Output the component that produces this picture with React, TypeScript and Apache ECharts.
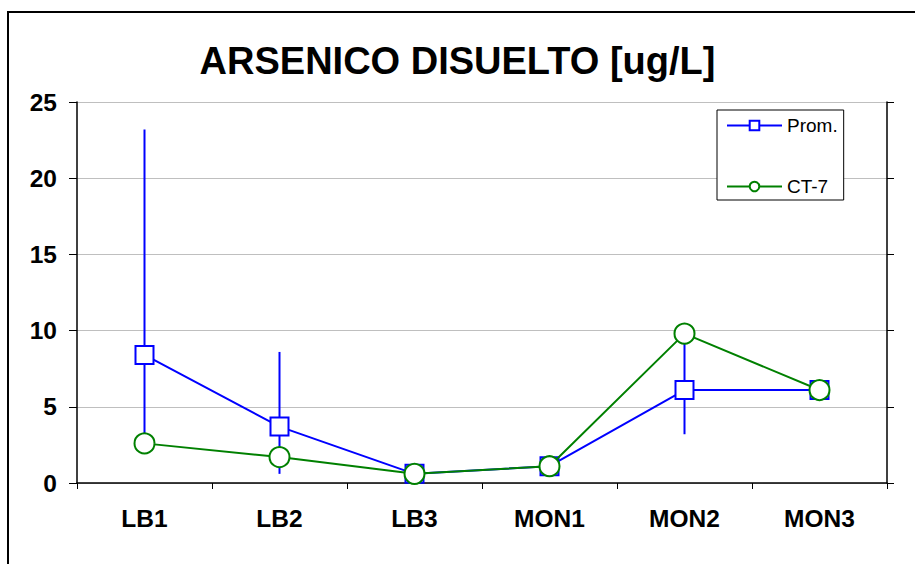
import React, { useEffect, useRef } from "react";
import * as echarts from "echarts";

const categories = ["LB1", "LB2", "LB3", "MON1", "MON2", "MON3"];
const promValues = [8.4, 3.7, 0.6, 1.1, 6.1, 6.1];
const ct7Values = [2.6, 1.7, 0.6, 1.1, 9.8, 6.1];
const promLow = [2.4, 0.6, 0.6, 1.1, 3.2, 6.1];
const promHigh = [23.2, 8.6, 0.6, 1.1, 9.6, 6.1];
const yTicks = [0, 5, 10, 15, 20, 25];

const FONT = "'Liberation Sans', Arial, sans-serif";

export default function App() {
  const ref = useRef<HTMLDivElement>(null);
  useEffect(() => {
    if (!ref.current) return;
    const chart = echarts.init(ref.current, null, { renderer: "svg" });
    const errData = categories.map((c, i) => [i, promLow[i], promHigh[i]]);
    chart.setOption({
      animation: false,
      backgroundColor: "#fff",
      title: {
        text: "ARSENICO DISUELTO [ug/L]",
        left: "center",
        top: 37,
        textStyle: { fontFamily: FONT, fontWeight: "bold", fontSize: 38, color: "#000" },
      },
      graphic: [
        {
          type: "rect",
          shape: { x: 8, y: 12, width: 930, height: 600 },
          style: { fill: "none", stroke: "#000", lineWidth: 2 },
          silent: true,
          z: 100,
        },
      ],
      legend: {
        orient: "vertical",
        left: 717,
        top: 110,
        padding: [6, 6, 4, 9],
        itemGap: 42,
        itemWidth: 55,
        itemHeight: 12,
        borderColor: "#000",
        borderWidth: 1,
        backgroundColor: "#fff",
        textStyle: { fontFamily: FONT, fontSize: 19, color: "#000", padding: [0, 0, 0, 0] },
        data: ["Prom.", "CT-7"],
      },
      grid: { left: 77, right: 28, top: 102, bottom: 81, containLabel: false },
      xAxis: {
        type: "category",
        data: categories,
        boundaryGap: true,
        axisLine: { lineStyle: { color: "#000", width: 1.5 } },
        axisTick: { show: true, length: 6, interval: 0, lineStyle: { color: "#000" } },
        axisLabel: {
          margin: 23,
          fontFamily: FONT,
          fontWeight: "bold",
          fontSize: 24.5,
          color: "#000",
        },
        splitLine: { show: false },
      },
      yAxis: [
        {
          type: "value",
          min: yTicks[0],
          max: yTicks[yTicks.length - 1],
          interval: 5,
          axisLine: { show: true, lineStyle: { color: "#000", width: 1.5 } },
          axisTick: { show: true, length: 8, lineStyle: { color: "#000" } },
          axisLabel: {
            margin: 20,
            fontFamily: FONT,
            fontWeight: "bold",
            fontSize: 24.5,
            color: "#000",
          },
          splitLine: { show: true, lineStyle: { color: "#bfbfbf", width: 1 } },
        },
        {
          type: "value",
          position: "right",
          min: yTicks[0],
          max: yTicks[yTicks.length - 1],
          interval: 5,
          axisLine: { show: true, lineStyle: { color: "#000", width: 1.5 } },
          axisTick: { show: true, length: 7, lineStyle: { color: "#000" } },
          axisLabel: { show: false },
          splitLine: { show: false },
        },
      ],
      series: [
        {
          type: "custom",
          name: "err",
          data: errData,
          renderItem: (params: any, api: any) => {
            const x = api.value(0);
            const p1 = api.coord([x, api.value(1)]);
            const p2 = api.coord([x, api.value(2)]);
            return {
              type: "line",
              shape: { x1: p1[0], y1: p1[1], x2: p2[0], y2: p2[1] },
              style: { stroke: "#0000ff", lineWidth: 2 },
            };
          },
          silent: true,
          z: 1,
        },
        {
          type: "line",
          name: "Prom.",
          data: promValues,
          symbol: "rect",
          symbolSize: 18,
          showAllSymbol: true,
          lineStyle: { color: "#0000ff", width: 2 },
          itemStyle: { color: "#ffffff", borderColor: "#0000ff", borderWidth: 2 },
          z: 2,
        },
        {
          type: "line",
          name: "CT-7",
          data: ct7Values,
          symbol: "circle",
          symbolSize: 20,
          showAllSymbol: true,
          lineStyle: { color: "#008000", width: 2 },
          itemStyle: { color: "#ffffff", borderColor: "#008000", borderWidth: 2 },
          z: 3,
        },
      ],
    });
    return () => chart.dispose();
  }, []);
  return <div ref={ref} style={{ width: 915, height: 564, position: "absolute", left: 0, top: 0 }} />;
}
